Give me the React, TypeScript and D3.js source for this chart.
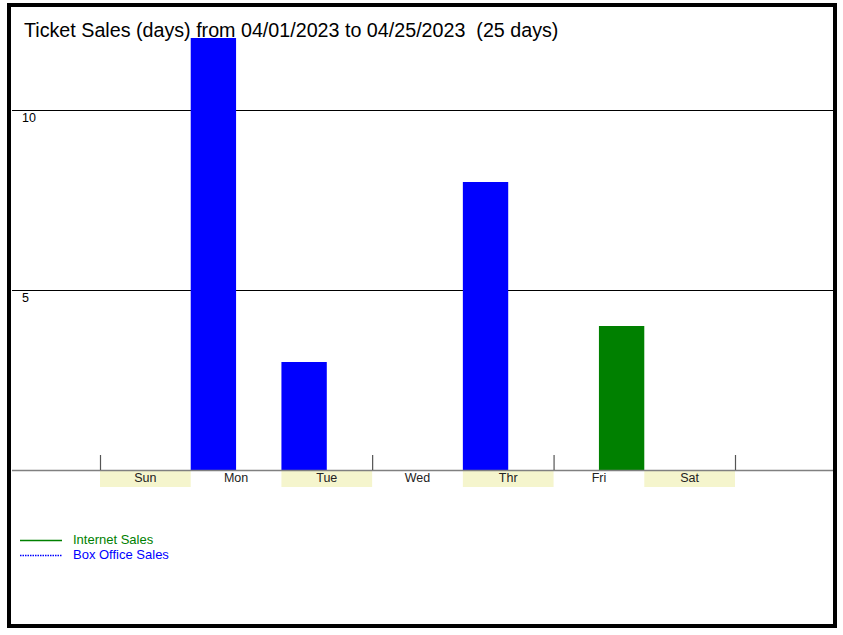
import React from "react";
import * as d3 from "d3";

const days = ["Sun", "Mon", "Tue", "Wed", "Thr", "Fri", "Sat"];
const boxOffice = [0, 12, 3, 0, 8, 0, 0];
const internet = [0, 0, 0, 0, 0, 4, 0];
const gridValues = [5, 10];
const tickDays = ["Sun", "Wed", "Fri"];
const shadedDays = ["Sun", "Tue", "Thr", "Sat"];
const title = "Ticket Sales (days) from 04/01/2023 to 04/25/2023  (25 days)";
const legendItems = [
  { label: "Internet Sales", color: "#008000", dash: "" },
  { label: "Box Office Sales", color: "#0000ff", dash: "1.5,1" },
];

export default function App() {
  const W = 843, H = 635;
  const x = d3.scaleBand<string>().domain(days).range([100, 735]).padding(0);
  const y = d3.scaleLinear().domain([0, 12]).range([470, 38]);
  const bw = x.bandwidth();
  const font = "'Liberation Sans', Arial, sans-serif";
  return (
    <svg width={W} height={H} style={{ position: "absolute", left: 0, top: 0, background: "#fff" }}>
      <rect x={9} y={5} width={826} height={621} fill="#fff" stroke="#000" strokeWidth={4} />
      <text x={24} y={37} fontFamily={font} fontSize={19.7} fill="#000" style={{ whiteSpace: "pre" }}>{title}</text>
      {gridValues.map((v) => (
        <g key={v}>
          <line x1={12} x2={833} y1={y(v) + 0.5} y2={y(v) + 0.5} stroke="#000" strokeWidth={1} />
          <text x={22} y={y(v) + 12} fontFamily={font} fontSize={12.5} fill="#000">{v}</text>
        </g>
      ))}
      {shadedDays.map((d) => (
        <rect key={d} x={x(d)!} y={471} width={bw} height={16} fill="#f5f5cd" />
      ))}
      {days.map((d, i) => (
        <g key={d}>
          {boxOffice[i] > 0 && (
            <rect x={x(d)!} y={y(boxOffice[i])} width={bw / 2} height={y(0) - y(boxOffice[i])} fill="#0000ff" />
          )}
          {internet[i] > 0 && (
            <rect x={x(d)! + bw / 2} y={y(internet[i])} width={bw / 2} height={y(0) - y(internet[i])} fill="#008000" />
          )}
          <text x={x(d)! + bw / 2} y={482} textAnchor="middle" fontFamily={font} fontSize={12.5} fill="#222">{d}</text>
        </g>
      ))}
      <line x1={12} x2={833} y1={470.5} y2={470.5} stroke="#808080" strokeWidth={1.5} />
      {tickDays.map((d) => (
        <line key={d} x1={x(d)! + 0.5} x2={x(d)! + 0.5} y1={455} y2={470} stroke="#555" strokeWidth={1.2} />
      ))}
      <line x1={735.5} x2={735.5} y1={455} y2={470} stroke="#555" strokeWidth={1.2} />
      {legendItems.map((it, i) => (
        <g key={it.label}>
          <line x1={20} x2={62} y1={540.5 + i * 15} y2={540.5 + i * 15} stroke={it.color} strokeWidth={1.3} strokeDasharray={it.dash || undefined} />
          <text x={73} y={544 + i * 15} fontFamily={font} fontSize={13} fill={it.color}>{it.label}</text>
        </g>
      ))}
    </svg>
  );
}
